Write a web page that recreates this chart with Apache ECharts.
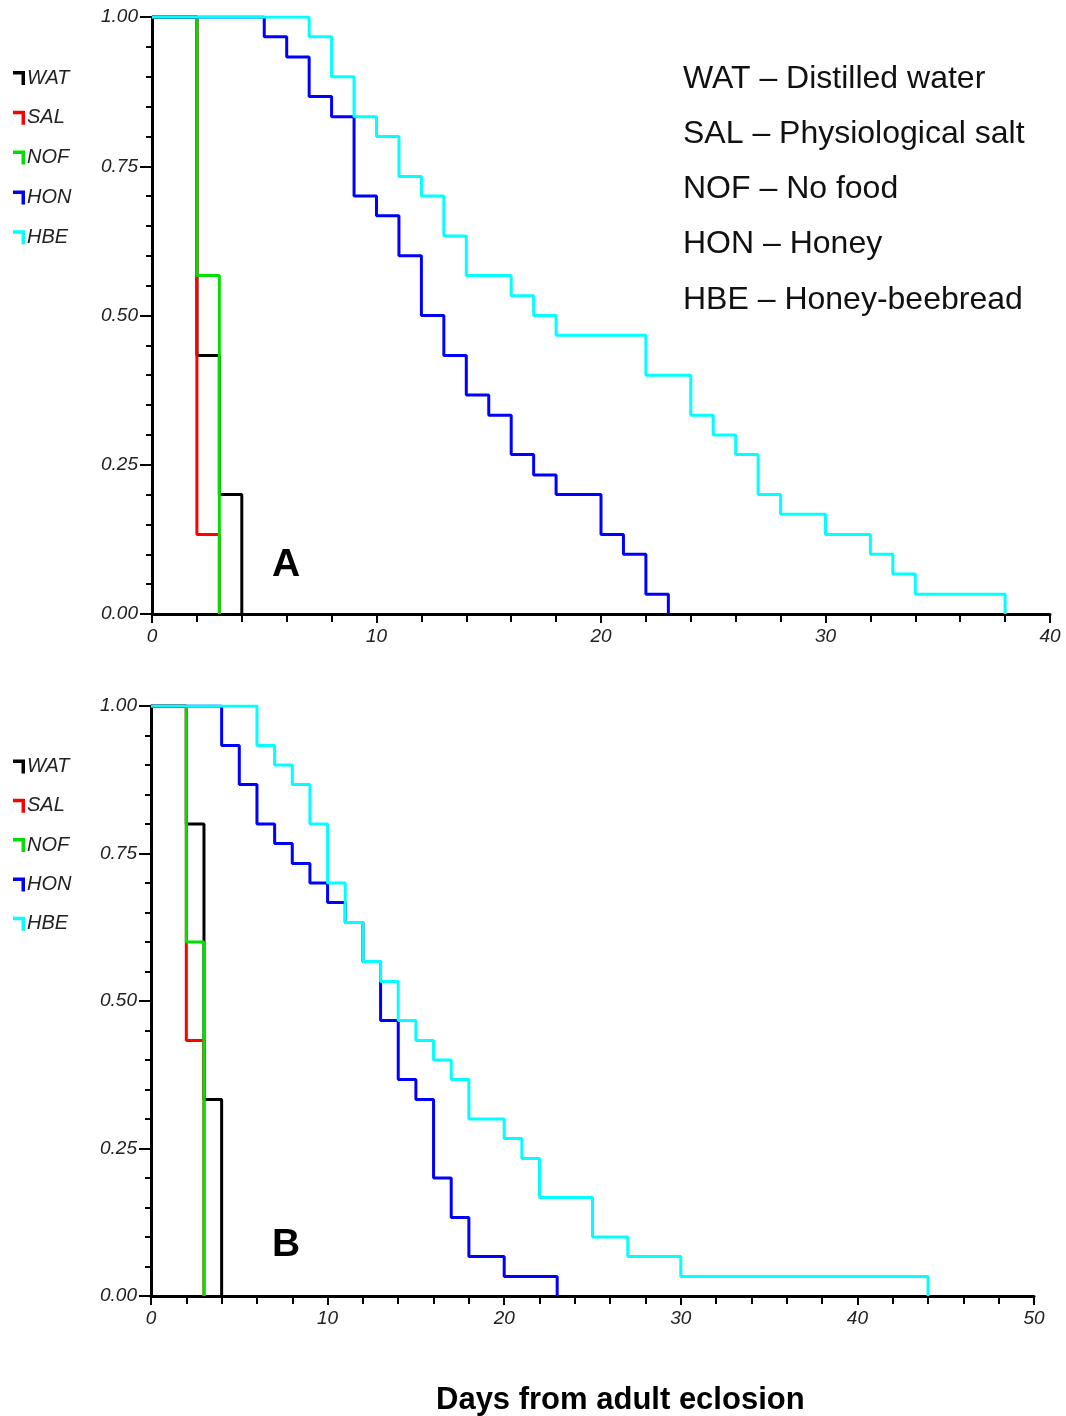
<!DOCTYPE html>
<html>
<head>
<meta charset="utf-8">
<script src="https://cdn.jsdelivr.net/npm/echarts@6/dist/echarts.min.js"></script>
<style>
  html, body { margin: 0; padding: 0; background: #fff; }
  #chart { width: 1066px; height: 1416px; }
</style>
</head>
<body>
<div id="chart"></div>
<script>
// survival curves, [day, proportion alive] -- panel A
var watA = [[0, 1], [2, 0.433], [3, 0.2], [4, 0]];
var salA = [[0, 1], [2, 0.133], [3, 0]];
var nofA = [[0, 1], [2, 0.567], [3, 0]];
var honA = [[0, 1], [5, 0.967], [6, 0.933], [7, 0.867], [8, 0.833], [9, 0.7], [10, 0.667], [11, 0.6],
    [12, 0.5], [13, 0.433], [14, 0.367], [15, 0.333], [16, 0.267], [17, 0.233], [18, 0.2], [20, 0.133],
    [21, 0.1], [22, 0.033], [23, 0]];
var hbeA = [[0, 1], [7, 0.967], [8, 0.9], [9, 0.833], [10, 0.8], [11, 0.733], [12, 0.7], [13, 0.633],
    [14, 0.567], [16, 0.533], [17, 0.5], [18, 0.467], [22, 0.4], [24, 0.333], [25, 0.3], [26, 0.267],
    [27, 0.2], [28, 0.167], [30, 0.133], [32, 0.1], [33, 0.067], [34, 0.033], [38, 0]];

// panel B
var watB = [[0, 1], [2, 0.8], [3, 0.333], [4, 0]];
var salB = [[0, 1], [2, 0.433], [3, 0]];
var nofB = [[0, 1], [2, 0.6], [3, 0]];
var honB = [[0, 1], [4, 0.933], [5, 0.867], [6, 0.8], [7, 0.767], [8, 0.733], [9, 0.7], [10, 0.667],
    [11, 0.633], [12, 0.567], [13, 0.467], [14, 0.367], [15, 0.333], [16, 0.2], [17, 0.133], [18, 0.067],
    [20, 0.033], [23, 0]];
var hbeB = [[0, 1], [6, 0.933], [7, 0.9], [8, 0.867], [9, 0.8], [10, 0.7], [11, 0.633], [12, 0.567],
    [13, 0.533], [14, 0.467], [15, 0.433], [16, 0.4], [17, 0.367], [18, 0.3], [20, 0.267], [21, 0.233],
    [22, 0.167], [25, 0.1], [27, 0.067], [30, 0.033], [44, 0]];

var groups = ['WAT', 'SAL', 'NOF', 'HON', 'HBE'];
var colors = ['#000000', '#ff0000', '#00e000', '#0000ff', '#00ffff'];
var maxDays = [40, 50];
var keyLines = ['WAT \u2013 Distilled water', 'SAL \u2013 Physiological salt', 'NOF \u2013 No food',
    'HON \u2013 Honey', 'HBE \u2013 Honey-beebread'];

var font = 'Liberation Sans, Arial, sans-serif';
var cornerIcon = 'path://M0,0 L12,0 L12,14 L8.5,14 L8.5,3.5 L0,3.5 Z';

function xAxisFor(idx, max) {
    return {
        type: 'value', gridIndex: idx, min: 0, max: max, interval: 10,
        axisLine: { lineStyle: { color: '#000', width: 3 } },
        axisTick: { length: 9, lineStyle: { color: '#000', width: 2 } },
        minorTick: { show: true, splitNumber: 5, length: 8, lineStyle: { color: '#000', width: 2 } },
        splitLine: { show: false },
        axisLabel: { color: '#222', fontStyle: 'italic', fontFamily: font, fontSize: 19, margin: 13 }
    };
}

function yAxisFor(idx) {
    return {
        type: 'value', gridIndex: idx, min: 0, max: 1, interval: 0.25,
        axisLine: { lineStyle: { color: '#000', width: 3 } },
        axisTick: { length: 12, lineStyle: { color: '#000', width: 2 } },
        minorTick: { show: true, splitNumber: 5, length: 6, lineStyle: { color: '#000', width: 2 } },
        splitLine: { show: false },
        axisLabel: {
            color: '#222', fontStyle: 'italic', fontFamily: font, fontSize: 19, margin: 14,
            formatter: function (v) { return v.toFixed(2); }
        }
    };
}

function legendFor(top, gap) {
    return {
        data: groups, orient: 'vertical', left: 8, top: top, itemGap: gap,
        itemWidth: 12, itemHeight: 14, icon: cornerIcon, selectedMode: false,
        itemStyle: { borderWidth: 0 },
        textStyle: { color: '#222', fontStyle: 'italic', fontFamily: font, fontSize: 20, padding: [0, 0, 0, -3] }
    };
}

var panels = [[watA, salA, nofA, honA, hbeA], [watB, salB, nofB, honB, hbeB]];
var series = [];
for (var p = 0; p < panels.length; p++) {
    for (var g = 0; g < groups.length; g++) {
        series.push({
            name: groups[g], type: 'line', step: 'end', symbol: 'none',
            xAxisIndex: p, yAxisIndex: p, data: panels[p][g],
            lineStyle: { color: colors[g], width: 3 }, itemStyle: { color: colors[g] },
            z: 2 + g, animation: false
        });
    }
}

var graphics = [];
for (var k = 0; k < keyLines.length; k++) {
    graphics.push({
        type: 'text', left: 683, top: 63 + k * 55.2,
        style: { text: keyLines[k], fill: '#111', font: '32px ' + font }
    });
}
graphics.push({ type: 'text', left: 272, top: 546, style: { text: 'A', fill: '#000', font: 'bold 39px ' + font } });
graphics.push({ type: 'text', left: 272, top: 1226, style: { text: 'B', fill: '#000', font: 'bold 39px ' + font } });
graphics.push({ type: 'text', left: 436, top: 1385, style: { text: 'Days from adult eclosion', fill: '#000', font: 'bold 31px ' + font } });

var myChart = echarts.init(document.getElementById('chart'));
myChart.setOption({
    backgroundColor: '#fff',
    animation: false,
    grid: [
        { left: 152, top: 17, width: 898, height: 597 },
        { left: 151, top: 706, width: 883, height: 590 }
    ],
    xAxis: [xAxisFor(0, maxDays[0]), xAxisFor(1, maxDays[1])],
    yAxis: [yAxisFor(0), yAxisFor(1)],
    legend: [legendFor(63, 19.8), legendFor(751.5, 19.3)],
    graphic: graphics,
    series: series
});
</script>
</body>
</html>
